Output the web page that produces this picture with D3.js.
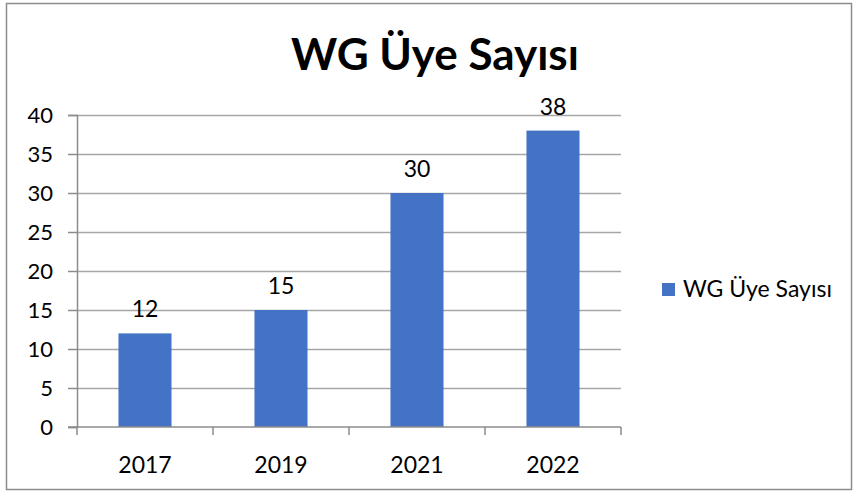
<!DOCTYPE html>
<html>
<head>
<meta charset="utf-8">
<script src="https://cdn.jsdelivr.net/npm/d3@7"></script>
<style>
  body { margin: 0; background: #fff; }
  svg text { font-family: Lato, "Open Sans", sans-serif; fill: #000; }
</style>
</head>
<body>
<div id="chart"></div>
<script>
// Données
const years = ["2017", "2019", "2021", "2022"];
const members = [12, 15, 30, 38];
const yTicks = [0, 5, 10, 15, 20, 25, 30, 35, 40];
const seriesName = "WG Üye Sayısı";
const title = "WG Üye Sayısı";

const W = 856, H = 494;
const plot = { left: 77, right: 621, top: 115, bottom: 427 };

const svg = d3.select("#chart").append("svg")
    .attr("width", W)
    .attr("height", H);

// Cadre
svg.append("rect")
    .attr("x", 6.5).attr("y", 3.5)
    .attr("width", 845).attr("height", 486)
    .attr("fill", "#fff")
    .attr("stroke", "#8c8c8c")
    .attr("stroke-width", 1.5);

const x = d3.scaleBand()
    .domain(years)
    .range([plot.left, plot.right])
    .paddingInner(0.61)
    .paddingOuter(0.305);

const y = d3.scaleLinear()
    .domain([0, 40])
    .range([plot.bottom, plot.top]);

// Grille
svg.append("g")
    .selectAll("line")
    .data(yTicks.filter(d => d > 0))
    .join("line")
    .attr("x1", plot.left).attr("x2", plot.right)
    .attr("y1", d => Math.round(y(d)) + 0.5)
    .attr("y2", d => Math.round(y(d)) + 0.5)
    .attr("stroke", "#a6a6a6")
    .attr("stroke-width", 1.5);

// Barres
svg.append("g")
    .selectAll("rect")
    .data(members)
    .join("rect")
    .attr("x", (d, i) => x(years[i]))
    .attr("y", d => y(d))
    .attr("width", x.bandwidth())
    .attr("height", d => y(0) - y(d))
    .attr("fill", "#4472C4");

// Axe Y
const yAxis = svg.append("g")
    .attr("transform", `translate(${plot.left},0)`)
    .call(d3.axisLeft(y).tickValues(yTicks).tickSize(9).tickPadding(15).tickFormat(d3.format("d")));
yAxis.select(".domain").attr("stroke", "#8c8c8c").attr("stroke-width", 1.5);
yAxis.selectAll(".tick line").attr("stroke", "#8c8c8c").attr("stroke-width", 1.5);
yAxis.selectAll("text").style("font-size", "22px").attr("dy", "0.36em");

// Axe X
const xEdges = d3.scaleLinear().domain([0, years.length]).range([plot.left, plot.right]);
const xAxis = svg.append("g")
    .attr("transform", `translate(0,${plot.bottom})`);
xAxis.append("line")
    .attr("x1", plot.left - 9).attr("x2", plot.right)
    .attr("stroke", "#8c8c8c").attr("stroke-width", 1.5);
xAxis.selectAll(".edge")
    .data(d3.range(years.length + 1))
    .join("line")
    .attr("class", "edge")
    .attr("x1", d => xEdges(d)).attr("x2", d => xEdges(d))
    .attr("y1", 0).attr("y2", 8)
    .attr("stroke", "#8c8c8c").attr("stroke-width", 1.5);
xAxis.selectAll("text")
    .data(years)
    .join("text")
    .attr("x", d => x(d) + x.bandwidth() / 2)
    .attr("y", 46)
    .attr("text-anchor", "middle")
    .style("font-size", "23px")
    .text(d => d);

// Étiquettes de valeurs
svg.append("g")
    .selectAll("text")
    .data(members)
    .join("text")
    .attr("x", (d, i) => x(years[i]) + x.bandwidth() / 2)
    .attr("y", d => y(d) - 16)
    .attr("text-anchor", "middle")
    .style("font-size", "23px")
    .text(d => d);

// Titre
svg.append("text")
    .attr("x", 435)
    .attr("y", 70)
    .attr("text-anchor", "middle")
    .style("font-size", "44px")
    .style("font-weight", "bold")
    .text(title);

// Légende
const legend = svg.append("g").attr("transform", "translate(662,283)");
legend.append("rect")
    .attr("width", 13).attr("height", 13)
    .attr("fill", "#4472C4");
legend.append("text")
    .attr("x", 21).attr("y", 14)
    .style("font-size", "23px")
    .text(seriesName);
</script>
</body>
</html>
